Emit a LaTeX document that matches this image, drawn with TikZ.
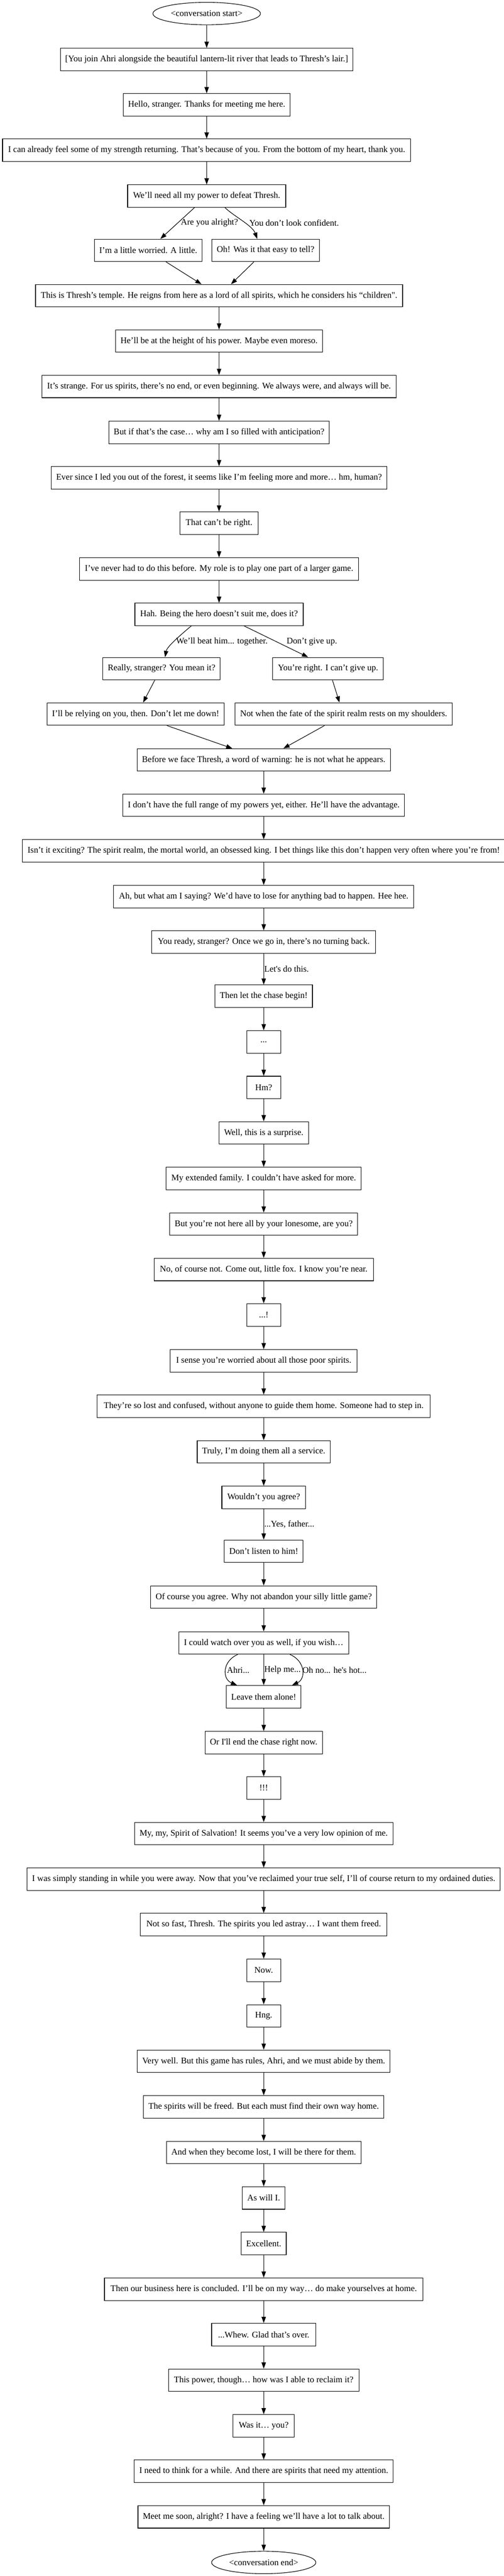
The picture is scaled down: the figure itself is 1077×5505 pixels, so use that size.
\documentclass[tikz,border=0pt]{standalone}
\usepackage{fontspec}
\newfontfamily\gvfont{Liberation Serif}
\usetikzlibrary{arrows.meta,shapes.geometric,calc}
\tikzset{
  gv/.style={font=\gvfont\fontsize{14pt}{16pt}\selectfont},
  dlg/.style={gv, draw, line width=0.9pt, rectangle, minimum height=36pt, inner xsep=7.9pt, inner ysep=0pt, minimum width=#1*0.75pt},
  terminal/.style={gv, draw, line width=0.9pt, ellipse, minimum height=36pt, inner sep=0pt, minimum width=#1*0.75pt},
  conn/.style={line width=0.9pt, -{Triangle[length=10pt,width=7pt]}},
  lbl/.style={gv, inner sep=0pt},
}
\begin{document}
\begin{tikzpicture}[x=0.75pt,y=-0.75pt]
\useasboundingbox (0,0) rectangle (1077,5505);
% column A
\node[terminal=230] (start) at (442,29) {<conversation start>};
\node[dlg=618] (n1) at (442,127) {\relax[You join Ahri alongside the beautiful lantern-lit river that leads to Thresh’s lair.]};
\node[dlg=353] (n2) at (442,224) {Hello, stranger. Thanks for meeting me here.};
\node[dlg=873] (n3) at (442,321) {I can already feel some of my strength returning. That’s because of you. From the bottom of my heart, thank you.};
\node[dlg=338] (n4) at (442,419) {We’ll need all my power to defeat Thresh.};
\node[dlg=224] (n5a) at (317,535) {I’m a little worried. A little.};
\node[dlg=230] (n5b) at (568,535) {Oh! Was it that easy to tell?};
% column B
\node[dlg=785] (n6) at (468.5,632) {This is Thresh’s temple. He reigns from here as a lord of all spirits, which he considers his “children".};
\node[dlg=443] (n7) at (468.5,729) {He’ll be at the height of his power. Maybe even moreso.};
\node[dlg=757] (n8) at (468.5,826) {It’s strange. For us spirits, there’s no end, or even beginning. We always were, and always will be.};
\node[dlg=469] (n9) at (468.5,924) {But if that’s the case… why am I so filled with anticipation?};
\node[dlg=716] (n10) at (468.5,1021) {Ever since I led you out of the forest, it seems like I’m feeling more and more… hm, human?};
\node[dlg=167] (n11) at (468.5,1118) {That can’t be right.};
\node[dlg=597] (n12) at (468.5,1216) {I’ve never had to do this before. My role is to play one part of a larger game.};
\node[dlg=360] (n13) at (468.5,1313) {Hah. Being the hero doesn’t suit me, does it?};
\node[dlg=249] (n14a) at (345.5,1429) {Really, stranger? You mean it?};
\node[dlg=237] (n14b) at (701.5,1429) {You’re right. I can’t give up.};
\node[dlg=376] (n15a) at (290,1526) {I’ll be relying on you, then. Don’t let me down!};
\node[dlg=465] (n15b) at (735,1526) {Not when the fate of the spirit realm rests on my shoulders.};
% column C
\node[dlg=541] (n16) at (564,1624) {Before we face Thresh, a word of warning: he is not what he appears.};
\node[dlg=597] (n17) at (564,1721) {I don’t have the full range of my powers yet, either. He’ll have the advantage.};
\node[dlg=1026] (n18) at (564,1818.5) {Isn’t it exciting? The spirit realm, the mortal world, an obsessed king. I bet things like this don’t happen very often where you’re from!};
\node[dlg=642] (n19) at (564,1916) {Ah, but what am I saying? We’d have to lose for anything bad to happen. Hee hee.};
\node[dlg=479] (n20) at (564,2013) {You ready, stranger? Once we go in, there’s no turning back.};
\node[dlg=208] (n21) at (564,2129) {Then let the chase begin!};
\node[dlg=73] (n22) at (564,2226.5) {...};
\node[dlg=73] (n23) at (564,2324) {Hm?};
\node[dlg=192] (n24) at (564,2421) {Well, this is a surprise.};
\node[dlg=417] (n25) at (564,2518.5) {My extended family. I couldn’t have asked for more.};
\node[dlg=402] (n26) at (564,2616) {But you’re not here all by your lonesome, are you?};
\node[dlg=469] (n27) at (564,2713) {No, of course not. Come out, little fox. I know you’re near.};
\node[dlg=73] (n28) at (564,2810) {...!};
\node[dlg=400] (n29) at (564,2908) {I sense you’re worried about all those poor spirits.};
\node[dlg=712] (n30) at (564,3005) {They’re so lost and confused, without anyone to guide them home. Someone had to step in.};
\node[dlg=283] (n31) at (564,3102.5) {Truly, I’m doing them all a service.};
\node[dlg=179] (n32) at (564,3200) {Wouldn’t you agree?};
\node[dlg=167] (n33) at (564,3315) {Don’t listen to him!};
\node[dlg=481] (n34) at (564,3413) {Of course you agree. Why not abandon your silly little game?};
\node[dlg=363] (n35) at (564,3511) {I could watch over you as well, if you wish…};
\node[dlg=158] (n36) at (564,3626) {Leave them alone!};
\node[dlg=251] (n37) at (564,3724) {Or I'll end the chase right now.};
\node[dlg=73] (n38) at (564,3821) {!!!};
\node[dlg=553] (n39) at (564,3918.5) {My, my, Spirit of Salvation! It seems you’ve a very low opinion of me.};
\node[dlg=1006] (n40) at (564,4016) {I was simply standing in while you were away. Now that you’ve reclaimed your true self, I’ll of course return to my ordained duties.};
\node[dlg=527] (n41) at (564,4113) {Not so fast, Thresh. The spirits you led astray… I want them freed.};
\node[dlg=73] (n42) at (564,4210.5) {Now.};
\node[dlg=73] (n43) at (564,4308) {Hng.};
\node[dlg=537] (n44) at (564,4405) {Very well. But this game has rules, Ahri, and we must abide by them.};
\node[dlg=509] (n45) at (564,4502.5) {The spirits will be freed. But each must find their own way home.};
\node[dlg=415] (n46) at (564,4600) {And when they become lost, I will be there for them.};
\node[dlg=90] (n47) at (564,4697) {As will I.};
\node[dlg=95] (n48) at (564,4794.5) {Excellent.};
\node[dlg=681] (n49) at (564,4892) {Then our business here is concluded. I’ll be on my way… do make yourselves at home.};
\node[dlg=223] (n50) at (564,4989) {...Whew. Glad that’s over.};
\node[dlg=407] (n51) at (564,5086.5) {This power, though… how was I able to reclaim it?};
\node[dlg=131] (n52) at (564,5184) {Was it… you?};
\node[dlg=549] (n53) at (564,5281) {I need to think for a while. And there are spirits that need my attention.};
\node[dlg=530] (n54) at (564,5378.5) {Meet me soon, alright? I have a feeling we’ll have a lot to talk about.};
\node[terminal=223] (end) at (564,5476) {<conversation end>};

% straight vertical connectors
\foreach \a/\b in {start/n1,n1/n2,n2/n3,n3/n4,n6/n7,n7/n8,n8/n9,n9/n10,n10/n11,n11/n12,n12/n13,
  n16/n17,n17/n18,n18/n19,n19/n20,n21/n22,n22/n23,n23/n24,n24/n25,n25/n26,n26/n27,n27/n28,n28/n29,
  n29/n30,n30/n31,n31/n32,n33/n34,n34/n35,n36/n37,n37/n38,n38/n39,n39/n40,n40/n41,n41/n42,n42/n43,
  n43/n44,n44/n45,n45/n46,n46/n47,n47/n48,n48/n49,n49/n50,n50/n51,n51/n52,n52/n53,n53/n54,n54/end}
  \draw[conn] (\a) -- (\b);

% labelled vertical connectors
\draw[conn] (n20) -- node[lbl, right, xshift=0.5pt] (l5) {Let's do this.} (n21);
\draw[conn] (n32) -- node[lbl, right, xshift=0.5pt] (l6) {...Yes, father...} (n33);
\draw[conn] (n35) -- node[lbl, right, xshift=0.5pt] (l8) {Help me...} (n36);

% first branch
\draw[conn] ($(n4.south)+(-26,0)$) -- ($(n5a.north)+(26,0)$);
\draw[conn] ($(n4.south)+(39,0)$) .. controls (500,462) and (540,482) .. ($(n5b.north)+(-18,0)$);
\node[lbl] (l1) at (448,476) {Are you alright?};
\node[lbl] (l2) at (629,476) {You don’t look confident.};
\draw[conn] ($(n5a.south)+(38,0)$) -- ($(n6.north)+(-37.5,0)$);
\draw[conn] ($(n5b.south)+(-25,0)$) -- ($(n6.north)+(25.5,0)$);

% second branch
\draw[conn] ($(n13.south)+(-59.5,0)$) .. controls (385,1358) and (357,1382) .. ($(n14a.north)+(7.5,0)$);
\draw[conn] ($(n13.south)+(53.5,0)$) -- ($(n14b.north)+(-42.5,0)$);
\node[lbl] (l3) at (474.5,1371) {We’ll beat him... together.};
\node[lbl] (l4) at (667,1371) {Don’t give up.};
\draw[conn] ($(n14a.south)+(-14.5,0)$) -- ($(n15a.north)+(16,0)$);
\draw[conn] ($(n14b.south)+(9.5,0)$) -- ($(n15b.north)+(-9,0)$);
\draw[conn] ($(n15a.south)+(67,0)$) -- ($(n16.north)+(-67,0)$);
\draw[conn] ($(n15b.south)+(-41,0)$) -- ($(n16.north)+(42,0)$);

% third branch
\draw[conn] ($(n35.south)+(-55.5,0)$) .. controls (475,3550) and (475,3588) .. ($(n36.north)+(-57,0)$);
\draw[conn] ($(n35.south)+(56,0)$) .. controls (654,3550) and (654,3588) .. ($(n36.north)+(60.5,0)$);
\node[lbl] (l7) at (509.5,3569) {Ahri...};
\node[lbl] (l9) at (715.5,3569) {Oh no... he's hot...};
\end{tikzpicture}
\end{document}
